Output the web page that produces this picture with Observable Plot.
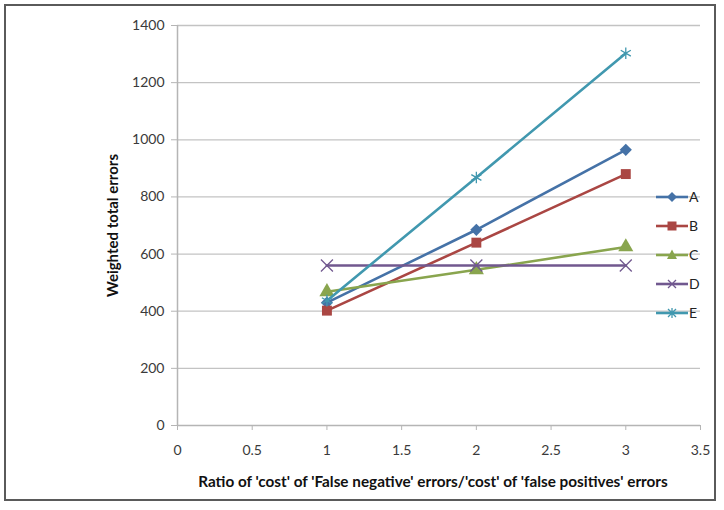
<!DOCTYPE html>
<html><head><meta charset="utf-8">
<script src="https://cdn.jsdelivr.net/npm/d3@7"></script>
<script src="https://cdn.jsdelivr.net/npm/@observablehq/plot@0.6"></script>
<style>
body{margin:0;background:#fff}
#wrap{position:relative;width:724px;height:510px;font-family:Lato,"Liberation Sans",sans-serif;overflow:hidden}
#frame{position:absolute;left:4px;top:4px;width:712px;height:497px;border:2px solid #5a5a5a;box-sizing:border-box;pointer-events:none}
#legend{position:absolute;left:656px;top:182px;font-size:14px;color:#222}
#legend div{height:29px;display:flex;align-items:center}
#legend span{margin-left:1px}
</style>
</head><body><div id="wrap"><div id="frame"></div><div id="legend"></div></div>
<script>
const ratios = [1, 2, 3];
const seriesNames = ["A", "B", "C", "D", "E"];
const valuesA = [430, 685, 965];
const valuesB = [402, 640, 880];
const valuesC = [468, 545, 625];
const valuesD = [560, 560, 560];
const valuesE = [437, 868, 1303];
const xTicks = [0, 0.5, 1, 1.5, 2, 2.5, 3, 3.5];
const yTicks = [0, 200, 400, 600, 800, 1000, 1200, 1400];
const colors = ["#4572A7", "#AA4643", "#89A54E", "#71588F", "#4198AF"];
const symbols = ["diamond2", "square", "triangle", "times", "asterisk"];
const filled = [true, true, true, false, false];
const sizes = [5.5, 5.6, 5.6, 5.5, 5.5];

const allValues = [valuesA, valuesB, valuesC, valuesD, valuesE];
const data = [];
seriesNames.forEach((s, i) => ratios.forEach((r, j) => data.push({series: s, x: r, y: allValues[i][j]})));

const marks = [
  Plot.ruleY(yTicks.filter(d => d > 0), {stroke: "#c3c3c3", strokeWidth: 1.3}),
  Plot.ruleX([0], {stroke: "#b5b5b5", strokeWidth: 1.5}),
  Plot.ruleY([0], {stroke: "#b5b5b5", strokeWidth: 1.5}),
  Plot.axisX({ticks: xTicks, tickSize: 5, stroke: "#b5b5b5", tickPadding: 15, fontSize: 14, fill: "#3a3a3a", label: null, tickFormat: d => String(d)}),
  Plot.axisY({ticks: yTicks, tickSize: 6, stroke: "#b5b5b5", tickPadding: 7, fontSize: 14, fill: "#3a3a3a", label: null, tickFormat: d => String(d)}),
];
seriesNames.forEach((s, i) => {
  const d = data.filter(e => e.series === s);
  marks.push(Plot.line(d, {x: "x", y: "y", stroke: colors[i], strokeWidth: 2.6}));
  marks.push(Plot.dot(d, {x: "x", y: "y", symbol: () => symbols[i], r: sizes[i],
    fill: filled[i] ? colors[i] : "none", stroke: filled[i] ? "none" : colors[i], strokeWidth: filled[i] ? 0 : 1.3}));
});
marks.push(Plot.text(["Weighted total errors"], {frameAnchor: "left", textAnchor: "middle", dx: -64, rotate: -90, fontWeight: "bold", fontSize: 15, fill: "#111"}));
marks.push(Plot.text(["Ratio of 'cost' of 'False negative' errors/'cost' of 'false positives' errors"], {frameAnchor: "bottom", dy: 61, dx: -6, fontWeight: "bold", fontSize: 15.3, fill: "#111"}));

const chart = Plot.plot({
  width: 724, height: 510,
  marginLeft: 177, marginRight: 24, marginTop: 25, marginBottom: 85,
  x: {domain: [0, 3.5]},
  y: {domain: [0, 1400]},
  style: {fontFamily: "Lato, 'Liberation Sans', sans-serif", background: "transparent", overflow: "visible"},
  marks
});
const wrap = document.getElementById("wrap");
wrap.insertBefore(chart, wrap.firstChild);

const legend = document.getElementById("legend");
seriesNames.forEach((s, i) => {
  const row = document.createElement("div");
  let sym = "";
  const c = colors[i];
  if (symbols[i] === "diamond2") sym = `<path d="M16,3 L21,8 L16,13 L11,8Z" fill="${c}"/>`;
  if (symbols[i] === "square") sym = `<rect x="11.5" y="3.5" width="9" height="9" fill="${c}"/>`;
  if (symbols[i] === "triangle") sym = `<path d="M16,2.5 L21,12 L11,12Z" fill="${c}"/>`;
  if (symbols[i] === "times") sym = `<path d="M12,4 L20,12 M20,4 L12,12" stroke="${c}" stroke-width="1.3"/>`;
  if (symbols[i] === "asterisk") sym = `<path d="M12,4 L20,12 M20,4 L12,12 M16,3 L16,13" stroke="${c}" stroke-width="1.3"/>`;
  row.innerHTML = `<svg width="32" height="16"><line x1="0" x2="32" y1="8" y2="8" stroke="${c}" stroke-width="2.6"/>${sym}</svg><span>${s}</span>`;
  legend.appendChild(row);
});
</script>
</body></html>
